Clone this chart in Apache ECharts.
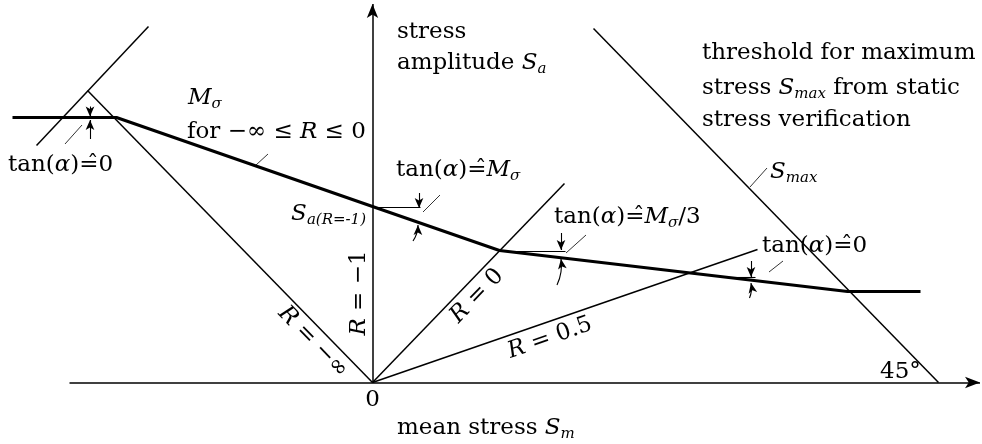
<!DOCTYPE html>
<html>
<head>
<meta charset="utf-8">
<script src="https://cdn.jsdelivr.net/npm/echarts@6/dist/echarts.min.js"></script>
<style>
  html, body { margin: 0; padding: 0; background: #fff; }
  #chart { width: 982px; height: 444px; }
</style>
</head>
<body>
<div id="chart"></div>
<script>
// Haigh diagram: stress amplitude S_a over mean stress S_m

// value ranges of the plotting area (S_m, S_a)
const smRange = [-372.5, 609.5];
const saRange = [-61.5, 382.5];

// the two axes, drawn as arrows: mean stress S_m and stress amplitude S_a
const smAxisLine = [[-303, 0], [607.5, 0]];
const saAxisLine = [[0, 0], [0, 378.5]];
const originLabel = '0';

// fatigue limit curve (amplitude over mean stress)
const limitSm = [-360, -256, 0, 127, 475, 548];
const limitSa = [265, 265, 176, 132, 91, 91];

// constant stress-ratio rays from the origin and static limits
const rayNegInf = [[0, 0], [-285, 292]];
const rayZero = [[0, 0], [192, 199]];
const rayHalf = [[0, 0], [385, 133]];
const compressionLimit = [[-336, 237], [-224, 356]];
const sMaxLimit = [[221, 354], [566, 0]];

// slope annotations: horizontal references, leader strokes, arrows (tail, tip)
const slopeRefs = [
  [[0, 175], [48, 175]],
  [[127, 131.5], [193, 131.5]],
  [[354, 105.5], [383, 105.5]]
];
const leaders = [
  [[-307.5, 238.5], [-290.5, 257.5]],
  [[-116.5, 217.5], [-104.5, 228.5]],
  [[50.5, 170.5], [67.5, 187.5]],
  [[193.5, 129.5], [213.5, 147.5]],
  [[396.5, 110.5], [410.5, 121.5]],
  [[377.5, 195.5], [394.5, 214.5]]
];
const straightArrows = [
  [[-282.5, 276], [-282.5, 266]],
  [[-282.5, 243.5], [-282.5, 262.5]],
  [[46.5, 189.5], [46.5, 174.5]],
  [[188.5, 149.5], [188.5, 132.5]],
  [[378.5, 121.5], [378.5, 105.5]]
];
const curvedArrows = [
  [[40.5, 141.5], [45.5, 157.5]],
  [[184.5, 97.5], [188.5, 123.5]],
  [[377, 84.5], [378.5, 99.5]]
];

const SERIF = "'DejaVu Serif', 'DejaVu Sans', serif";
const INK = '#000';
const EST = '=\u0302'; // "corresponds to": equals sign with a hat

function richStyles(lh) {
  return {
    r: { fontFamily: SERIF, fontSize: 23, lineHeight: lh, fill: INK },
    i: { fontFamily: SERIF, fontSize: 23, fontStyle: 'italic', lineHeight: lh, fill: INK },
    s: { fontFamily: SERIF, fontSize: 15, fontStyle: 'italic', lineHeight: 12, verticalAlign: 'bottom', fill: INK }
  };
}

function label(x, y, text, align, rotation) {
  return {
    type: 'text',
    x: x,
    y: y,
    rotation: rotation || 0,
    silent: true,
    style: {
      text: text,
      rich: richStyles(28),
      fill: INK,
      fontFamily: SERIF,
      fontSize: 23,
      textAlign: align || 'left',
      align: align || 'left',
      textVerticalAlign: 'middle',
      verticalAlign: 'middle'
    }
  };
}

function segmentSeries(coords, width) {
  return {
    type: 'line',
    data: coords,
    showSymbol: false,
    symbol: 'none',
    clip: false,
    silent: true,
    lineStyle: { color: INK, width: width },
    z: 3
  };
}

function arrowSeries(list, size, width, curveness) {
  return {
    type: 'lines',
    coordinateSystem: 'cartesian2d',
    silent: true,
    symbol: ['none', 'arrow'],
    symbolSize: [size, size],
    data: list.map(c => ({ coords: c })),
    lineStyle: { color: INK, width: width, opacity: 1, curveness: curveness },
    z: 6
  };
}

const chart = echarts.init(document.getElementById('chart'), null, { renderer: 'canvas' });

const limitData = limitSm.map((v, k) => [v, limitSa[k]]);

chart.setOption({
  animation: false,
  backgroundColor: '#fff',
  grid: { left: 0, right: 0, top: 0, bottom: 0, containLabel: false, outerBoundsMode: 'none' },
  xAxis: {
    type: 'value',
    min: smRange[0],
    max: smRange[1],
    show: false
  },
  yAxis: {
    type: 'value',
    min: saRange[0],
    max: saRange[1],
    show: false
  },
  series: [
    arrowSeries([smAxisLine], [8.5, 15], 1.5, 0),
    arrowSeries([saAxisLine], [8.5, 14], 1.5, 0),
    segmentSeries(rayNegInf, 1.5),
    segmentSeries(rayZero, 1.5),
    segmentSeries(rayHalf, 1.5),
    segmentSeries(compressionLimit, 1.5),
    segmentSeries(sMaxLimit, 1.5),
    {
      type: 'line',
      data: limitData,
      showSymbol: false,
      symbol: 'none',
      clip: false,
      silent: true,
      lineStyle: { color: INK, width: 3, join: 'round' },
      z: 4
    },
    {
      type: 'lines',
      coordinateSystem: 'cartesian2d',
      silent: true,
      symbol: 'none',
      data: slopeRefs.map(c => ({ coords: c })),
      lineStyle: { color: INK, width: 1.1, opacity: 1 },
      z: 5
    },
    {
      type: 'lines',
      coordinateSystem: 'cartesian2d',
      silent: true,
      symbol: 'none',
      data: leaders.map(c => ({ coords: c })),
      lineStyle: { color: INK, width: 0.8, opacity: 1 },
      z: 5
    },
    arrowSeries(straightArrows, [6.5, 10], 1.1, 0),
    arrowSeries(curvedArrows, [6.5, 10], 1.1, -0.15)
  ],
  graphic: [
    label(372.5, 400, '{r|' + originLabel + '}', 'center'),
    label(397, 32, '{r|stress}'),
    label(397, 63, '{r|amplitude }{i|S}{s|a}'),
    label(702, 53, '{r|threshold for maximum}'),
    label(702, 88, '{r|stress }{i|S}{s|max}{r| from static}'),
    label(702, 120, '{r|stress verification}'),
    label(188, 98, '{i|M}{s|σ}'),
    label(187, 132, '{r|for −∞ ≤ }{i|R}{r| ≤ 0}'),
    label(8, 165, '{r|tan(}{i|α}{r|)' + EST + '0}'),
    label(366, 214, '{i|S}{s|a(R=-1)}', 'right'),
    label(396, 170, '{r|tan(}{i|α}{r|)' + EST + '}{i|M}{s|σ}'),
    label(554, 217, '{r|tan(}{i|α}{r|)' + EST + '}{i|M}{s|σ}{r|/3}'),
    label(762, 246, '{r|tan(}{i|α}{r|)' + EST + '0}'),
    label(770, 172, '{i|S}{s|max}'),
    label(880, 372, '{r|45°}'),
    label(397, 428, '{r|mean stress }{i|S}{s|m}'),
    label(313, 342, '{i|R}{r| = −∞}', 'center', -Math.atan(1.03)),
    label(359, 293, '{i|R}{r| = −1}', 'center', Math.PI / 2),
    label(477, 296, '{i|R}{r| = 0}', 'center', Math.atan(1.04)),
    label(550, 338, '{i|R}{r| = 0.5}', 'center', Math.atan(0.347))
  ]
});
</script>
</body>
</html>
